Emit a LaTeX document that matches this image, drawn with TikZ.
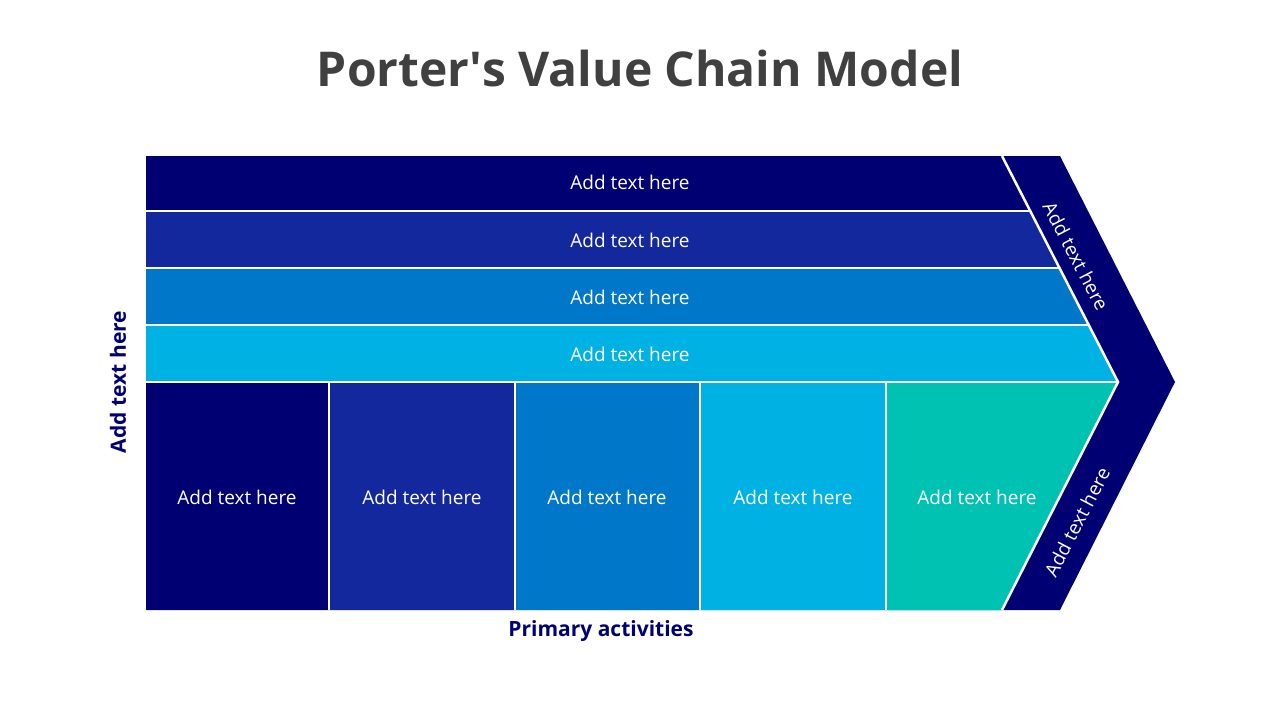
\documentclass[tikz,border=0pt]{standalone}
\usepackage{fontspec}
\setmainfont{Open Sans}
\definecolor{navy}{HTML}{000073}
\definecolor{cB}{HTML}{14289E}
\definecolor{cC}{HTML}{0077C8}
\definecolor{cD}{HTML}{00B2E3}
\definecolor{cE}{HTML}{00C2B2}
\definecolor{ttl}{HTML}{404040}
\tikzset{lbl/.style={text=white,font=\fontsize{19}{22}\selectfont},
 sep/.style={draw=white,line width=2.5pt}}
\begin{document}
\begin{tikzpicture}[x=1pt,y=-1pt]
\useasboundingbox (0,0) rectangle (1280,720);
\node[font=\fontsize{48}{56}\selectfont\bfseries,text=ttl] (title) at (640,68) {Porter\textquotesingle s Value Chain Model};
\fill[navy] (146,156) -- (1060,156) -- (1175,382) -- (1060,610) -- (146,610) -- cycle;
\fill[navy] (146,156) -- (1002,156) -- (1030,211) -- (146,211) -- cycle;
\fill[cB] (146,211) -- (1030,211) -- (1059,268) -- (146,268) -- cycle;
\fill[cC] (146,268) -- (1059,268) -- (1089,325) -- (146,325) -- cycle;
\fill[cD] (146,325) -- (1089,325) -- (1118,382) -- (146,382) -- cycle;
\fill[navy] (146,382) rectangle (329,610);
\fill[cB] (329,382) rectangle (515,610);
\fill[cC] (515,382) rectangle (700,610);
\fill[cD] (700,382) rectangle (886,610);
\fill[cE] (886,382) -- (1118,382) -- (1002,610) -- (886,610) -- cycle;
\draw[sep] (1002,156) -- (1118,382) -- (1002,610);
\draw[sep] (146,211) -- (1030,211);
\draw[sep] (146,268) -- (1059,268);
\draw[sep] (146,325) -- (1089,325);
\draw[sep] (146,382) -- (1118,382);
\foreach \x in {329,515,700,886} \draw[sep] (\x,382) -- (\x,610);
\node[lbl] (r1) at (630,182) {Add text here};
\node[lbl] (r2) at (630,240) {Add text here};
\node[lbl] (r3) at (630,297) {Add text here};
\node[lbl] (r4) at (630,354) {Add text here};
\node[lbl] (p1) at (237,497) {Add text here};
\node[lbl] (p2) at (422,497) {Add text here};
\node[lbl] (p3) at (607,497) {Add text here};
\node[lbl] (p4) at (793,497) {Add text here};
\node[lbl] (p5) at (977,497) {Add text here};
\node[lbl,rotate=-62.5] (m1) at (1076,256) {Add text here};
\node[lbl,rotate=62.5] (m2) at (1077,522) {Add text here};
\node[font=\fontsize{21}{24}\selectfont\bfseries,text=navy,rotate=90] (sup) at (118,382) {Add text here};
\node[font=\fontsize{21}{24}\selectfont\bfseries,text=navy] (prim) at (601,631) {Primary activities};
\end{tikzpicture}
\end{document}
